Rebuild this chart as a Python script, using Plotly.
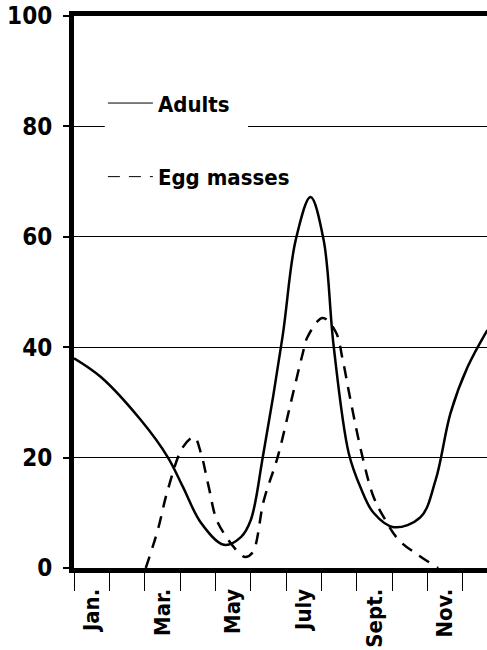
import plotly.graph_objects as go

# Month position (0 = start of January) and percentage values
adult_month = [0.0, 0.76, 1.89, 2.65, 3.08, 3.59, 4.24, 4.72, 5.0, 5.34, 5.9, 6.27, 6.69,
               7.06, 7.34, 7.77, 8.11, 8.47, 9.04, 9.8, 10.23, 10.65, 11.13, 11.69]
adult_value = [38, 34.6, 26.8, 20.1, 14.7, 8.2, 4.2, 5.6, 8.7, 20.1, 42, 59.4, 67.2,
               59.4, 40.4, 20.8, 14.5, 10, 7.4, 9.2, 16, 28.1, 36.4, 43.1]

egg_month = [2.03, 2.37, 2.65, 3.08, 3.4, 3.59, 3.81, 4.07, 4.72, 4.86, 5.06, 5.37, 5.76, 6.13,
             6.47, 6.6, 7.03, 7.4, 7.6, 7.82, 8.16, 8.47, 8.76, 9.18, 9.72, 10.3]
egg_value = [0, 6.9, 14.1, 21.9, 23.7, 20.8, 14.7, 8.2, 2.4, 2, 2.9, 12.3, 20.1, 29.9,
             38.9, 41.8, 45.3, 42.8, 37.7, 30.4, 20.1, 12.9, 9.2, 5.1, 2.4, 0]

month_label_pos = [0.5, 2.5, 4.5, 6.5, 8.5, 10.5]
month_labels = ["Jan.", "Mar.", "May", "July", "Sept.", "Nov."]
y_ticks = [0, 20, 40, 60, 80, 100]

FONT = "DejaVu Sans Condensed, Liberation Sans Narrow, Roboto, sans-serif"

fig = go.Figure()
fig.add_trace(go.Scatter(x=adult_month, y=adult_value, mode="lines", line_shape="spline",
                         line=dict(color="black", width=2.5), showlegend=False))
fig.add_trace(go.Scatter(x=egg_month, y=egg_value, mode="lines", line_shape="spline",
                         line=dict(color="black", width=2.5, dash="12px,9px"), showlegend=False))
# legend entries
fig.add_trace(go.Scatter(x=[None], y=[None], mode="lines", name="Adults",
                         line=dict(color="black", width=1), legendgroup="a"))
fig.add_trace(go.Scatter(x=[None], y=[None], mode="lines", name="Egg masses",
                         line=dict(color="black", width=1, dash="12px,9px"), legendgroup="b"))

fig.add_shape(type="rect", x0=0.87, x1=4.92, y0=78, y1=82, xref="x", yref="y",
              fillcolor="white", line_width=0, layer="between")

fig.update_layout(
    width=487, height=650,
    margin=dict(l=74, r=0, t=16, b=82, autoexpand=False),
    paper_bgcolor="white", plot_bgcolor="white",
    font=dict(family=FONT, color="black", weight="bold"),
    legend=dict(x=0.07, y=0.88, xanchor="left", yanchor="top",
                bgcolor="rgba(0,0,0,0)", font=dict(size=22, family=FONT, weight="bold"),
                traceorder="grouped", tracegroupgap=42, itemwidth=45),
    xaxis=dict(range=[0, 11.68], tickvals=month_label_pos, ticktext=month_labels,
               tickangle=-90, ticks="", ticklabelstandoff=7, automargin=False,
               tickfont=dict(size=22, family=FONT, color="black", weight="bold"),
               showgrid=False, zeroline=False,
               showline=True, linewidth=5, linecolor="black", mirror=True,
               minor=dict(tickmode="linear", tick0=0, dtick=1, ticks="outside", ticklen=18,
                          tickwidth=1, tickcolor="black", showgrid=False)),
    yaxis=dict(range=[0, 100], tickvals=y_ticks, ticktext=[str(v) for v in y_ticks],
               ticks="outside", ticklen=6, tickwidth=2, tickcolor="black", automargin=False,
               ticklabeloverflow="allow",
               tickfont=dict(size=24, family=FONT, color="black", weight="bold"), ticklabelstandoff=6,
               showgrid=True, gridcolor="black", gridwidth=1, zeroline=False,
               showline=True, linewidth=5, linecolor="black"),
)

# remove the default 8px page margin so the figure fills the window exactly
fig.write_html("out.html", config={"displayModeBar": False},
               post_script="document.body.style.margin='0';")
